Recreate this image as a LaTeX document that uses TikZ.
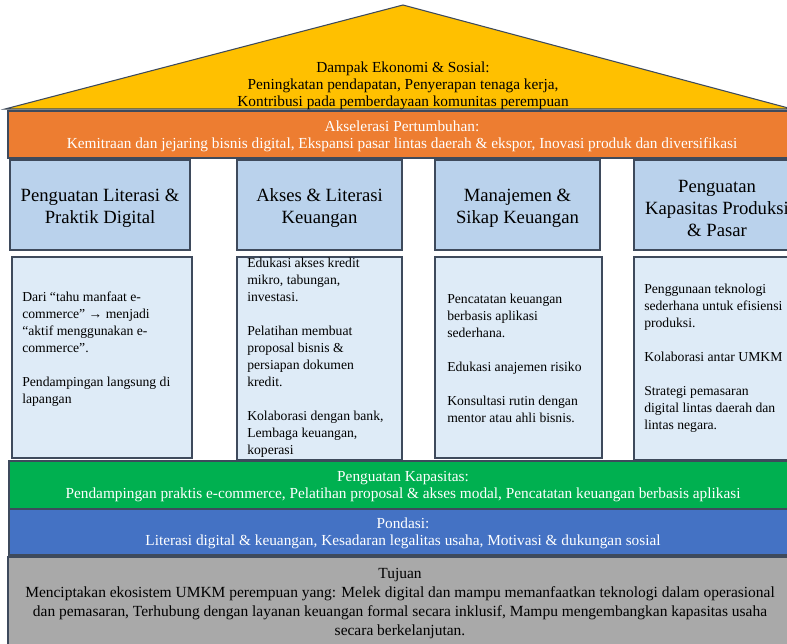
\documentclass[tikz,border=0pt]{standalone}
\usepackage{fontspec}
\setmainfont{Liberation Serif}
\usetikzlibrary{positioning}

\definecolor{roofc}{HTML}{FFC000}
\definecolor{orangec}{HTML}{ED7D31}
\definecolor{headc}{HTML}{BAD2EC}
\definecolor{bodyc}{HTML}{DEEBF7}
\definecolor{greenc}{HTML}{00B050}
\definecolor{bluec}{HTML}{4472C4}
\definecolor{grayc}{HTML}{A9A9A9}
\definecolor{bordc}{HTML}{3E4A5C}

\begin{document}
\begin{tikzpicture}[x=0.75pt, y=-0.75pt,
    edge/.style = {draw=bordc, line width=0.8pt},
    bandtext/.style = {align=center, text=white, inner sep=0pt,
        font=\fontsize{11.5}{12.75}\selectfont},
    headbox/.style = {edge, fill=headc},
    headtext/.style = {align=center, inner sep=0pt,
        font=\fontsize{14}{16.5}\selectfont},
    bodybox/.style = {edge, fill=bodyc},
    bodytext/.style = {align=left, anchor=west, inner sep=0pt,
        font=\fontsize{10.25}{12.75}\selectfont}]

    \useasboundingbox (0,0) rectangle (787,643);
    \clip (0,0) rectangle (787,643);

    % roof
    \draw [edge, fill=roofc] (5,109) -- (403,5) -- (792,109) -- cycle;
    \node (dampak) [bandtext, text=black] at (403,86)
        {Dampak Ekonomi \& Sosial:\\
         Peningkatan pendapatan, Penyerapan tenaga kerja,\\
         Kontribusi pada pemberdayaan komunitas perempuan};

    % akselerasi
    \draw [edge, fill=orangec] (8,111) rectangle (792,158);
    \node (akselerasi) [bandtext] at (402,136.5)
        {Akselerasi Pertumbuhan:\\
         Kemitraan dan jejaring bisnis digital, Ekspansi pasar lintas daerah \& ekspor, Inovasi produk dan diversifikasi};

    % pilar
    \draw [headbox] (10,160) rectangle (190,250);
    \draw [headbox] (237,160) rectangle (402,250);
    \draw [headbox] (435,160) rectangle (600,250);
    \draw [headbox] (634,160) rectangle (800,250);
    \node (literasi) [headtext] at (100,208) {Penguatan Literasi \&\\Praktik Digital};
    \node (akses) [headtext] at (319.5,208) {Akses \& Literasi\\Keuangan};
    \node (manajemen) [headtext] at (517.5,208) {Manajemen \&\\Sikap Keuangan};
    \node (kapasitas) [headtext] at (717,208) {Penguatan\\Kapasitas Produksi\\\& Pasar};

    \draw [bodybox] (12,257) rectangle (192,458);
    \draw [bodybox] (237,257) rectangle (402,460);
    \draw [bodybox] (435,257) rectangle (602,458);
    \draw [bodybox] (634,257) rectangle (800,460);
    \node (isi1) [bodytext] at (22,349)
        {Dari “tahu manfaat e-\\commerce” → menjadi\\“aktif menggunakan e-\\commerce”.\\[12.75pt]
         Pendampingan langsung di\\lapangan};
    \node (isi2) [bodytext] at (247,358)
        {Edukasi akses kredit\\mikro, tabungan,\\investasi.\\[12.75pt]
         Pelatihan membuat\\proposal bisnis \&\\persiapan dokumen\\kredit.\\[12.75pt]
         Kolaborasi dengan bank,\\Lembaga keuangan,\\koperasi};
    \node (isi3) [bodytext] at (447,358)
        {Pencatatan keuangan\\berbasis aplikasi\\sederhana.\\[12.75pt]
         Edukasi anajemen risiko\\[12.75pt]
         Konsultasi rutin dengan\\mentor atau ahli bisnis.};
    \node (isi4) [bodytext] at (644,358)
        {Penggunaan teknologi\\sederhana untuk efisiensi\\produksi.\\[12.75pt]
         Kolaborasi antar UMKM\\[12.75pt]
         Strategi pemasaran\\digital lintas daerah dan\\lintas negara.};

    % penguatan, pondasi, tujuan
    \draw [edge, fill=greenc] (9,461) rectangle (792,509);
    \node (penguatan) [bandtext] at (403,487)
        {Penguatan Kapasitas:\\
         Pendampingan praktis e-commerce, Pelatihan proposal \& akses modal, Pencatatan keuangan berbasis aplikasi};

    \draw [edge, fill=bluec] (9,509) rectangle (792,555);
    \node (pondasi) [bandtext] at (403,533)
        {Pondasi:\\
         Literasi digital \& keuangan, Kesadaran legalitas usaha, Motivasi \& dukungan sosial};

    \draw [edge, fill=grayc] (8,557) rectangle (792,650);
    \node (tujuan) [bandtext, text=black, font=\fontsize{11.6}{14.25}\selectfont] at (400,603.5)
        {Tujuan\\
         Menciptakan ekosistem UMKM perempuan yang: Melek digital dan mampu memanfaatkan teknologi dalam operasional\\
         dan pemasaran, Terhubung dengan layanan keuangan formal secara inklusif, Mampu mengembangkan kapasitas usaha\\
         secara berkelanjutan.};

\end{tikzpicture}
\end{document}
